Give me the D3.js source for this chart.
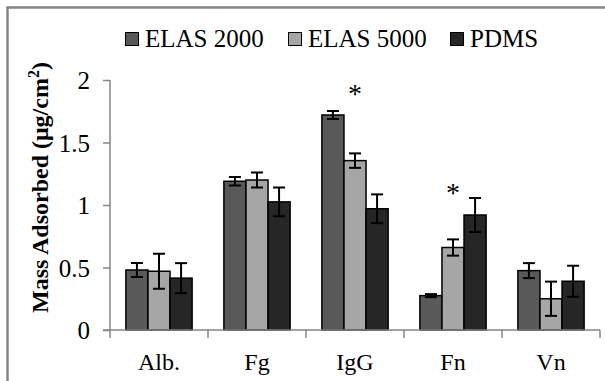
<!DOCTYPE html>
<html>
<head>
<meta charset="utf-8">
<script src="https://cdn.jsdelivr.net/npm/d3@7"></script>
<style>
  body { margin: 0; background: #fff; }
  svg { display: block; }
</style>
</head>
<body>
<div id="chart"></div>
<script>
// proteins on the x axis
var categories = ["Alb.", "Fg", "IgG", "Fn", "Vn"];
var seriesNames = ["ELAS 2000", "ELAS 5000", "PDMS"];
var seriesColors = ["#595959", "#a6a6a6", "#262626"];

// mean adsorbed mass (ug/cm2), one array per surface
var elas2000 = [0.48, 1.19, 1.72, 0.275, 0.475];
var elas5000 = [0.47, 1.20, 1.355, 0.66, 0.25];
var pdms     = [0.415, 1.025, 0.97, 0.92, 0.39];

// error bar half widths
var elas2000Err = [0.056, 0.034, 0.032, 0.012, 0.06];
var elas5000Err = [0.14, 0.06, 0.058, 0.065, 0.137];
var pdmsErr     = [0.12, 0.115, 0.115, 0.136, 0.124];

var yTicks = [0, 0.5, 1, 1.5, 2];

// asterisks above the ELAS 5000 bar, height in data units
var starCats = ["IgG", "Fn"];
var starLevels = [1.93, 1.14];

var font = "'Liberation Serif', 'Times New Roman', serif";
var width = 605, height = 381;
var margin = {top: 80, right: 5, bottom: 51, left: 110};

var svg = d3.select("#chart").append("svg")
  .attr("width", width)
  .attr("height", height);

// outer frame (clipped on right and bottom like the original)
svg.append("rect")
  .attr("x", 7.5).attr("y", 7.5)
  .attr("width", 620).attr("height", 400)
  .attr("fill", "none")
  .attr("stroke", "#868686")
  .attr("stroke-width", 2.5);

var x = d3.scaleBand()
  .domain(categories)
  .range([margin.left, width - margin.right]);

var x1 = d3.scaleBand()
  .domain(seriesNames)
  .range([0, x.bandwidth()])
  .paddingInner(0)
  .paddingOuter(0.72);

var y = d3.scaleLinear()
  .domain([0, 2])
  .range([height - margin.bottom, margin.top]);

var rows = [];
var vals = [elas2000, elas5000, pdms];
var errs = [elas2000Err, elas5000Err, pdmsErr];
categories.forEach(function(c, i) {
  seriesNames.forEach(function(s, j) {
    rows.push({cat: c, series: s, idx: j, v: vals[j][i], e: errs[j][i]});
  });
});

// y axis
var yAxis = svg.append("g")
  .attr("transform", "translate(" + margin.left + ",0)")
  .call(d3.axisLeft(y).tickValues(yTicks).tickSize(7).tickPadding(13)
    .tickFormat(function(d) { return d; }));
yAxis.selectAll("path, line").attr("stroke", "#868686").attr("stroke-width", 1.5);
yAxis.select("path").attr("d", "M0," + y(2) + "V" + y(0));
yAxis.selectAll("text")
  .attr("font-family", font)
  .attr("font-size", 25)
  .attr("dy", "0.34em")
  .attr("fill", "#000");

// bars
var bars = svg.append("g");
bars.selectAll("rect")
  .data(rows)
  .enter().append("rect")
  .attr("x", function(d) { return x(d.cat) + x1(d.series); })
  .attr("y", function(d) { return y(d.v); })
  .attr("width", x1.bandwidth())
  .attr("height", function(d) { return y(0) - y(d.v); })
  .attr("fill", function(d) { return seriesColors[d.idx]; })
  .attr("stroke", "#000")
  .attr("stroke-width", 1.5);

// error bars
var eb = svg.append("g").attr("stroke", "#000").attr("stroke-width", 2);
rows.forEach(function(d) {
  var cx = x(d.cat) + x1(d.series) + x1.bandwidth() / 2;
  eb.append("line").attr("x1", cx).attr("x2", cx)
    .attr("y1", y(d.v + d.e)).attr("y2", y(d.v - d.e));
  [d.v + d.e, d.v - d.e].forEach(function(v) {
    eb.append("line").attr("x1", cx - 6).attr("x2", cx + 6)
      .attr("y1", y(v)).attr("y2", y(v));
  });
});

// x axis
var xAxis = svg.append("g")
  .attr("transform", "translate(0," + y(0) + ")")
  .call(d3.axisBottom(x).tickSize(0).tickPadding(0));
xAxis.select("path").attr("d", "M" + (margin.left - 7) + ",0H" + (width - margin.right))
  .attr("stroke", "#868686").attr("stroke-width", 1.5);
xAxis.selectAll("text")
  .attr("font-family", font)
  .attr("font-size", 24)
  .attr("dy", null)
  .attr("y", 40)
  .attr("fill", "#000");
// category separator ticks
var sep = [margin.left].concat(categories.map(function(c) { return x(c) + x.bandwidth(); }));
xAxis.selectAll(".sep")
  .data(sep)
  .enter().append("line")
  .attr("class", "sep")
  .attr("x1", function(d) { return d; }).attr("x2", function(d) { return d; })
  .attr("y1", 0).attr("y2", 8)
  .attr("stroke", "#868686").attr("stroke-width", 1.5);

// asterisks
svg.selectAll(".star")
  .data(starCats)
  .enter().append("text")
  .attr("class", "star")
  .attr("x", function(c) { return x(c) + x1("ELAS 5000") + x1.bandwidth() / 2; })
  .attr("y", function(c, i) { return y(starLevels[i]) + 14; })
  .attr("text-anchor", "middle")
  .attr("font-family", font)
  .attr("font-size", 28)
  .text("*");

// y axis title
svg.append("text")
  .attr("transform", "translate(48,313) rotate(-90)")
  .attr("text-anchor", "start")
  .attr("font-family", font)
  .attr("font-weight", "bold")
  .attr("font-size", 24)
  .html("Mass Adsorbed (μg/cm<tspan dy='-9' font-size='16'>2</tspan><tspan dy='9'>)</tspan>");

// legend
var legendX = [125, 288, 450];
var legend = svg.append("g");
seriesNames.forEach(function(s, j) {
  var g = legend.append("g").attr("transform", "translate(" + legendX[j] + ",32)");
  g.append("rect").attr("x", 0.5).attr("y", 0.5).attr("width", 13).attr("height", 13)
    .attr("fill", seriesColors[j]).attr("stroke", "#000").attr("stroke-width", 1);
  g.append("text").attr("x", 20).attr("y", 15)
    .attr("font-family", font)
    .attr("font-size", 25)
    .text(s);
});
</script>
</body>
</html>
